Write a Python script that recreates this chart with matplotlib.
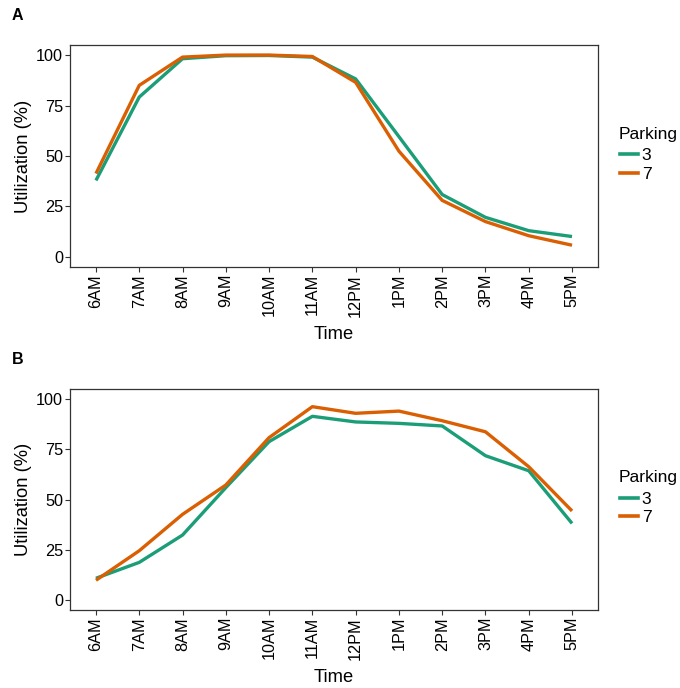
import matplotlib
matplotlib.use("Agg")
import matplotlib.pyplot as plt
from matplotlib.lines import Line2D

plt.rcParams['font.family'] = ['Liberation Sans', 'DejaVu Sans']

times = ["6AM", "7AM", "8AM", "9AM", "10AM", "11AM", "12PM", "1PM", "2PM", "3PM", "4PM", "5PM"]

# Panel A utilization (%)
a_lot3 = [37.9, 79.2, 98.2, 99.7, 99.8, 99.0, 88.2, 59.6, 30.9, 19.6, 13.0, 10.1]
a_lot7 = [41.3, 85.0, 99.0, 100.0, 100.0, 99.3, 86.5, 52.4, 28.0, 17.5, 10.5, 5.8]

# Panel B utilization (%)
b_lot3 = [10.8, 18.7, 32.3, 55.9, 78.8, 91.4, 88.6, 87.9, 86.6, 71.8, 64.3, 38.1]
b_lot7 = [9.8, 24.5, 42.6, 57.2, 80.8, 96.2, 92.9, 94.0, 89.2, 83.7, 66.3, 44.3]

lots = ["3", "7"]
colors = ["#1B9E77", "#D95F02"]

W, H = 680, 688
fig = plt.figure(figsize=(W / 100, H / 100), dpi=100)

TICK_FS = 11.7
TITLE_FS = 13.2
LEG_FS = 12.6


def axes_box(left, top, right, bottom):
    return [left / W, 1 - bottom / H, (right - left) / W, (bottom - top) / H]


def panel(box, series, letter, letter_y):
    left, top, right, bottom = box
    ax = fig.add_axes(axes_box(left, top, right, bottom))
    x = list(range(len(times)))
    for vals, c in zip(series, colors):
        ax.plot(x, vals, color=c, lw=2.4, solid_capstyle='butt')
    ax.set_xlim(-0.6, len(times) - 1 + 0.6)
    ax.set_ylim(-5, 105)
    ax.set_yticks([0, 25, 50, 75, 100])
    ax.set_xticks(x)
    ax.set_xticklabels(times, rotation=90)
    ax.tick_params(axis='both', labelsize=TICK_FS, colors='#333333', length=3.5, width=0.8,
                   labelcolor='black', pad=1.5)
    for s in ax.spines.values():
        s.set_color('#333333')
        s.set_linewidth(0.9)
    ax.set_xlabel("Time", fontsize=TITLE_FS, labelpad=7)
    ax.set_ylabel("Utilization (%)", fontsize=TITLE_FS, labelpad=3)

    # legend: title as its own text, keys below it
    mid = (top + bottom) / 2
    fig.text(619 / W, 1 - (mid - 22) / H, "Parking", fontsize=LEG_FS,
             va='center', ha='left')
    handles = [Line2D([0], [0], color=c, lw=2.6) for c in colors]
    fig.legend(handles, lots, loc='center left',
               bbox_to_anchor=(620 / W, 1 - (mid + 9) / H),
               frameon=False, fontsize=LEG_FS,
               handlelength=1.0, handletextpad=0.25, labelspacing=0.2,
               borderaxespad=0, borderpad=0)
    fig.text(12 / W, 1 - letter_y / H, letter, fontsize=11.5, fontweight='bold',
             va='center', ha='left')
    return ax


panel((70, 45, 598, 267), [a_lot3, a_lot7], "A", 16)
panel((70, 389, 598, 610), [b_lot3, b_lot7], "B", 359)

fig.savefig("out.png", dpi=100)
